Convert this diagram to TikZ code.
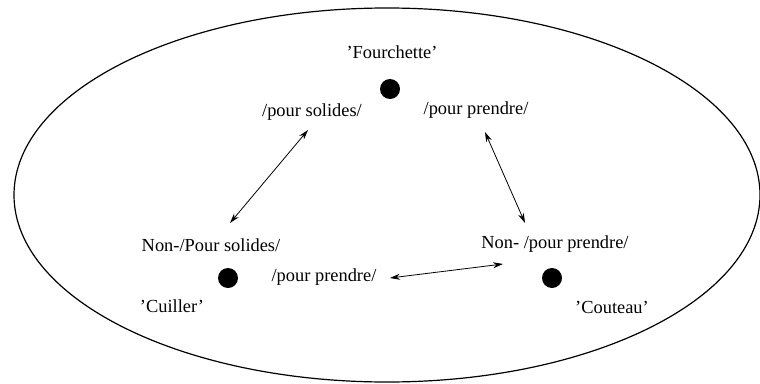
\documentclass[tikz,border=0pt]{standalone}
\usepackage{fontspec}
\setmainfont{Liberation Serif}
\usetikzlibrary{arrows.meta}
\begin{document}
\begin{tikzpicture}[x=1pt,y=-1pt,
  lbl/.style={inner sep=0pt,font=\fontsize{18.4}{20}\selectfont},
  dot/.style={circle,fill=black,inner sep=0pt,minimum size=20pt},
  link/.style={line width=0.8pt,{Stealth[length=10pt,width=6pt]}-{Stealth[length=10pt,width=6pt]}}]
\useasboundingbox (0,0) rectangle (760,383);
\draw[line width=1.2pt] (387,195) ellipse [x radius=373, y radius=187];
% top
\node[lbl] (fourchette) at (392,52) {'Fourchette'};
\node[dot] (dtop) at (390,89) {};
\node[lbl] (solides) at (312,112) {/pour solides/};
\node[lbl] (prendreA) at (476,110) {/pour prendre/};
% left
\node[lbl] (nonsolides) at (211,245) {Non-/Pour solides/};
\node[dot] (dleft) at (228,278) {};
\node[lbl] (prendreB) at (324,277) {/pour prendre/};
\node[lbl] (cuiller) at (172,306) {'Cuiller'};
% right
\node[lbl] (nonprendre) at (555,244) {Non- /pour prendre/};
\node[dot] (dright) at (552,278) {};
\node[lbl] (couteau) at (612,307) {'Couteau'};
% arrow ends
\coordinate (a1) at (308,130);
\coordinate (a2) at (230,223);
\coordinate (b1) at (485,132);
\coordinate (b2) at (525,223);
\coordinate (c1) at (390,278);
\coordinate (c2) at (503,264);
\draw[link] (a1) -- (a2);
\draw[link] (b1) -- (b2);
\draw[link] (c1) -- (c2);
\end{tikzpicture}
\end{document}
